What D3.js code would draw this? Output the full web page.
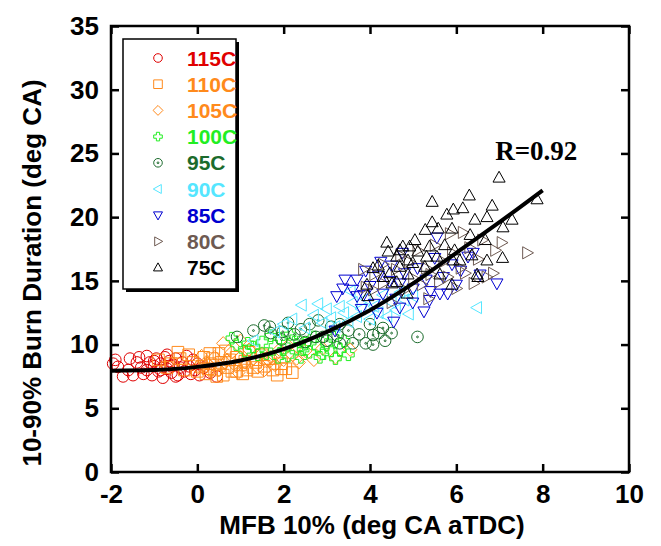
<!DOCTYPE html>
<html>
<head>
<meta charset="utf-8">
<script src="https://cdn.jsdelivr.net/npm/d3@7"></script>
<style>
  body { margin: 0; background: #fff; }
  svg { display: block; }
</style>
</head>
<body>
<script>
// series names (legend order)
var seriesNames = ["115C", "110C", "105C", "100C", "95C", "90C", "85C", "80C", "75C"];

// [MFB 10%, 10-90% burn duration]
var s115 = [[-1.95,8.5],[-1.9,8.8],[-1.84,8.25],[-1.72,7.5],[-1.6,8.0],[-1.56,8.9],[-1.49,7.6],[-1.4,8.6],[-1.3,8.2],[-1.25,7.7],[-1.17,9.1],[-1.17,8.0],[-1.1,8.6],[-1.05,7.6],[-1.0,8.3],[-0.95,8.9],[-0.9,7.9],[-0.85,8.5],[-0.8,7.4],[-0.75,9.0],[-0.7,8.1],[-0.65,8.7],[-0.6,7.8],[-0.55,8.4],[-0.5,8.9],[-0.45,7.6],[-0.4,8.2],[-0.35,8.6],[-0.3,7.9],[-0.25,9.1],[-0.2,8.3],[-0.15,7.7],[-0.1,8.8],[-0.05,8.0],[0.0,8.5],[0.05,7.6],[0.15,8.2],[0.3,7.8],[0.45,7.5],[-0.85,8.0],[-1.35,9.0],[-0.5,7.5],[-0.7,9.2],[-1.0,8.7],[-0.6,8.3]];
var s110 = [[-0.9,8.8],[-0.6,8.5],[-0.4,8.9],[-0.3,8.0],[-0.2,9.2],[-0.1,8.6],[0.0,7.9],[0.1,8.3],[0.15,9.0],[0.2,7.7],[0.29,9.3],[0.3,8.5],[0.35,8.9],[0.4,8.0],[0.5,9.3],[0.55,8.6],[0.6,7.6],[0.7,8.2],[0.75,8.8],[0.8,7.9],[0.91,7.9],[0.9,9.0],[1.0,8.4],[1.05,7.7],[1.1,8.7],[1.2,9.4],[1.29,8.2],[1.35,8.6],[1.4,7.9],[1.5,9.2],[1.55,8.3],[1.65,8.9],[1.75,8.0],[1.85,7.6],[1.95,8.1],[1.95,8.5],[2.05,8.1],[2.2,7.8],[-0.7,8.2],[0.25,8.1],[0.65,9.5],[1.15,8.0],[-0.45,9.4],[0.45,7.5]];
var s105 = [[0.0,8.2],[0.2,8.6],[0.4,9.0],[0.5,8.0],[0.64,8.6],[0.6,10.1],[0.7,8.8],[0.8,9.4],[0.9,8.3],[1.0,9.0],[1.1,8.6],[1.2,9.6],[1.3,8.9],[1.4,8.2],[1.5,9.3],[1.6,8.7],[1.68,8.7],[1.7,9.0],[1.8,8.4],[1.9,9.6],[2.0,8.8],[2.2,9.2],[2.3,8.9],[2.35,8.6],[2.5,9.5],[2.7,8.8],[1.0,10.3],[3.54,9.6],[3.2,9.0],[2.9,9.7],[0.3,7.9],[0.1,9.1],[1.55,8.0],[2.1,9.9],[0.95,7.8]];
var s100 = [[0.8,10.5],[0.9,10.0],[1.1,9.5],[1.17,10.1],[1.3,9.8],[1.4,9.2],[1.5,10.2],[1.6,9.3],[1.7,10.7],[1.8,9.9],[1.87,9.0],[1.9,10.5],[2.0,9.6],[2.1,9.1],[2.15,10.8],[2.2,10.3],[2.3,9.7],[2.37,10.2],[2.4,9.0],[2.45,9.6],[2.5,10.1],[2.6,9.4],[2.7,10.6],[2.8,9.8],[2.84,9.0],[2.9,9.3],[3.0,10.0],[3.1,9.5],[3.15,10.6],[3.2,8.9],[3.3,9.6],[3.4,10.3],[3.5,9.2]];
var s95 = [[0.92,10.6],[1.3,11.1],[1.55,11.5],[1.68,11.4],[1.7,10.9],[1.98,11.0],[1.95,10.4],[2.1,11.7],[2.25,10.8],[2.4,11.2],[2.5,10.2],[2.6,11.6],[2.75,10.6],[2.8,11.9],[2.91,10.6],[3.0,10.3],[3.1,11.4],[3.25,10.7],[3.3,10.1],[3.3,11.6],[3.5,11.1],[3.6,10.1],[3.75,10.8],[3.9,10.1],[4.0,11.6],[4.07,10.75],[4.07,10.0],[4.2,10.9],[4.3,11.3],[4.35,10.3],[4.5,10.9],[5.1,10.6]];
var s90 = [[1.3,10.3],[1.8,11.0],[2.0,11.6],[2.2,12.0],[2.42,13.1],[2.5,11.3],[2.7,12.3],[2.8,13.2],[2.9,11.7],[3.0,12.8],[3.1,12.1],[3.2,11.4],[3.3,13.0],[3.4,12.5],[3.5,11.8],[3.55,14.2],[3.6,13.3],[3.7,12.2],[3.8,12.8],[3.9,13.6],[4.0,12.0],[4.1,13.0],[4.2,12.5],[4.3,13.9],[4.4,12.2],[4.5,13.3],[4.6,12.7],[4.7,14.1],[4.8,13.5],[4.9,12.4],[5.0,13.8],[6.48,12.9]];
var s85 = [[3.19,11.1],[3.23,13.8],[3.37,14.4],[3.42,15.1],[3.6,14.3],[3.7,15.1],[3.7,13.8],[3.8,12.8],[3.85,13.9],[3.9,15.8],[4.0,14.6],[4.1,13.2],[4.16,12.5],[4.2,15.4],[4.25,16.5],[4.3,14.0],[4.45,15.0],[4.5,16.2],[4.55,11.8],[4.6,13.6],[4.69,12.9],[4.7,14.8],[4.75,17.2],[4.8,15.6],[4.99,13.3],[5.0,14.4],[5.1,16.0],[5.25,12.6],[5.3,15.1],[5.38,13.5],[5.4,14.2],[5.5,16.8],[5.55,18.4],[5.62,14.0],[5.7,15.3],[5.8,14.0],[5.9,16.3],[6.0,14.7],[6.1,15.8],[6.27,16.9],[6.39,17.2],[6.55,15.5],[6.94,14.8]];
var s80 = [[3.84,15.9],[3.9,14.5],[4.07,14.3],[4.1,15.5],[4.3,14.8],[4.3,16.3],[4.5,13.3],[4.6,15.9],[4.7,17.0],[4.8,14.3],[4.9,16.5],[5.0,15.2],[5.1,17.4],[5.2,14.7],[5.3,16.0],[5.35,13.6],[5.4,15.5],[5.5,17.8],[5.6,14.9],[5.7,16.5],[5.8,15.3],[5.85,18.7],[5.9,17.2],[6.0,14.4],[6.1,16.0],[6.15,18.8],[6.2,15.6],[6.3,17.6],[6.4,14.8],[6.5,16.7],[6.6,18.2],[6.7,15.3],[6.85,15.6],[6.9,17.4],[7.05,18.0],[7.64,17.2]];
var s75 = [[3.93,14.7],[3.95,13.8],[4.07,16.0],[4.19,16.2],[4.3,15.3],[4.39,18.0],[4.42,17.3],[4.46,15.6],[4.51,14.8],[4.62,16.9],[4.62,14.9],[4.69,17.4],[4.69,16.1],[4.76,17.7],[4.86,14.0],[4.88,16.6],[4.88,15.5],[4.92,17.7],[4.99,16.4],[5.04,18.2],[5.11,17.3],[5.27,16.1],[5.28,19.0],[5.31,16.9],[5.38,17.7],[5.44,21.2],[5.44,19.6],[5.55,16.9],[5.58,19.1],[5.62,15.5],[5.73,17.8],[5.78,20.2],[5.9,19.1],[5.9,14.7],[5.92,16.6],[5.93,20.6],[5.96,17.4],[6.08,16.6],[6.15,20.7],[6.3,21.7],[6.32,18.6],[6.36,17.0],[6.43,19.8],[6.48,15.5],[6.5,15.3],[6.67,18.2],[6.71,20.0],[6.71,16.6],[6.83,20.9],[6.99,23.1],[7.07,16.8],[7.08,19.2],[7.29,19.8],[7.87,21.4]];

var seriesData = [s115, s110, s105, s100, s95, s90, s85, s80, s75];

// fitted curve
var fitX = [-2, -1, 0, 1, 2, 3, 4, 5, 6, 7, 8];
var fitY = [7.95, 8.0, 8.25, 8.75, 9.65, 11.0, 12.7, 14.8, 17.2, 19.6, 22.1];
var fitLabel = "R=0.92";

var xTicks = [-2, 0, 2, 4, 6, 8, 10];
var yTicks = [0, 5, 10, 15, 20, 25, 30, 35];

var colors = ["#e00000", "#ff8a1c", "#ff8a1c", "#22ee22", "#1b6b2c", "#55e6ff", "#0000d0", "#6e5a52", "#000000"];
var shapes = ["circle", "square", "diamond", "plus", "circledot", "triLeft", "triDown", "triRight", "triUp"];

var width = 661, height = 546;
var margin = {left: 111, top: 26, right: 32, bottom: 74};
var pw = width - margin.left - margin.right,
    ph = height - margin.top - margin.bottom;

var svg = d3.select("body").append("svg")
    .attr("width", width)
    .attr("height", height);

var x = d3.scaleLinear().domain([-2, 10]).range([0, pw]);
var y = d3.scaleLinear().domain([0, 35]).range([ph, 0]);

var g = svg.append("g").attr("transform", "translate(" + margin.left + "," + margin.top + ")");

//marker path for a shape at size s (half width)
function markerPath(shape, s) {
    var p = d3.path();
    if (shape == "circle" || shape == "circledot") {
        p.arc(0, 0, s, 0, 2 * Math.PI);
    } else if (shape == "square") {
        p.rect(-s, -s, 2 * s, 2 * s);
    } else if (shape == "diamond") {
        var d = s * 1.15;
        p.moveTo(0, -d); p.lineTo(d, 0); p.lineTo(0, d); p.lineTo(-d, 0); p.closePath();
    } else if (shape == "plus") {
        var a = s * 0.38;
        p.moveTo(-a, -s); p.lineTo(a, -s); p.lineTo(a, -a); p.lineTo(s, -a); p.lineTo(s, a);
        p.lineTo(a, a); p.lineTo(a, s); p.lineTo(-a, s); p.lineTo(-a, a); p.lineTo(-s, a);
        p.lineTo(-s, -a); p.lineTo(-a, -a); p.closePath();
    } else {
        var t = s * 1.1, h = s * 0.95;
        var pts;
        if (shape == "triUp") pts = [[0, -t], [h * 1.1, t * 0.7], [-h * 1.1, t * 0.7]];
        if (shape == "triDown") pts = [[0, t], [h * 1.1, -t * 0.7], [-h * 1.1, -t * 0.7]];
        if (shape == "triLeft") pts = [[-t, 0], [t * 0.7, -h * 1.1], [t * 0.7, h * 1.1]];
        if (shape == "triRight") pts = [[t, 0], [-t * 0.7, -h * 1.1], [-t * 0.7, h * 1.1]];
        p.moveTo(pts[0][0], pts[0][1]); p.lineTo(pts[1][0], pts[1][1]); p.lineTo(pts[2][0], pts[2][1]); p.closePath();
    }
    if (shape == "circledot") {
        p.moveTo(0.9, 0);
        p.arc(0, 0, 0.9, 0, 2 * Math.PI);
    }
    return p.toString();
}

//scatter points
seriesData.forEach(function(data, i) {
    g.append("g")
        .attr("class", "series s" + seriesNames[i])
        .selectAll("path")
        .data(data)
        .enter()
        .append("path")
        .attr("transform", function(d) { return "translate(" + x(d[0]) + "," + y(d[1]) + ")"; })
        .attr("d", markerPath(shapes[i], 5.8))
        .attr("fill", "none")
        .attr("stroke", colors[i])
        .attr("stroke-width", 1);
});

//fit curve
var line = d3.line()
    .x(function(d, i) { return x(fitX[i]); })
    .y(function(d) { return y(d); })
    .curve(d3.curveMonotoneX);

g.append("path")
    .datum(fitY)
    .attr("d", line)
    .attr("fill", "none")
    .attr("stroke", "#000")
    .attr("stroke-width", 4);

g.append("text")
    .attr("x", x(6.9))
    .attr("y", y(24.5))
    .attr("font-family", "Liberation Serif, Times New Roman, serif")
    .attr("font-weight", "bold")
    .attr("font-size", 27)
    .text(fitLabel);

//frame and ticks
var tickLen = 8;
var fmt = function(d) { return String(d); };
var axisBottom = d3.axisBottom(x).tickValues(xTicks).tickSizeInner(-tickLen).tickSizeOuter(0).tickPadding(13).tickFormat(fmt);
var axisTop = d3.axisTop(x).tickValues(xTicks).tickSizeInner(-tickLen).tickSizeOuter(0).tickFormat("");
var axisLeft = d3.axisLeft(y).tickValues(yTicks).tickSizeInner(-tickLen).tickSizeOuter(0).tickPadding(12).tickFormat(fmt);
var axisRight = d3.axisRight(y).tickValues(yTicks).tickSizeInner(-tickLen).tickSizeOuter(0).tickFormat("");

g.append("g").attr("transform", "translate(0," + ph + ")").call(axisBottom);
g.append("g").call(axisTop);
g.append("g").call(axisLeft);
g.append("g").attr("transform", "translate(" + pw + ",0)").call(axisRight);

g.selectAll(".domain").remove();
g.selectAll(".tick line").attr("stroke", "#000").attr("stroke-width", 2.5);
g.selectAll(".tick text")
    .attr("fill", "#000")
    .attr("font-family", "Liberation Sans, Arial, sans-serif")
    .attr("font-weight", "bold")
    .attr("font-size", 26);

g.append("rect")
    .attr("width", pw)
    .attr("height", ph)
    .attr("fill", "none")
    .attr("stroke", "#000")
    .attr("stroke-width", 2.5);

//axis titles
svg.append("text")
    .attr("x", margin.left + pw / 2 + 2)
    .attr("y", 534)
    .attr("text-anchor", "middle")
    .attr("font-family", "Liberation Sans, Arial, sans-serif")
    .attr("font-weight", "bold")
    .attr("font-size", 26)
    .text("MFB 10% (deg CA aTDC)");

svg.append("text")
    .attr("transform", "translate(41," + (margin.top + ph / 2 + 24) + ") rotate(-90)")
    .attr("text-anchor", "middle")
    .attr("font-family", "Liberation Sans, Arial, sans-serif")
    .attr("font-weight", "bold")
    .attr("font-size", 26)
    .text("10-90% Burn Duration (deg CA)");

//legend
var lx = 123, ly = 39, lw = 113, lh = 250;
svg.append("rect")
    .attr("x", lx + 3).attr("y", ly + 3)
    .attr("width", lw).attr("height", lh)
    .attr("fill", "#000");
svg.append("rect")
    .attr("x", lx).attr("y", ly)
    .attr("width", lw).attr("height", lh)
    .attr("fill", "#fff")
    .attr("stroke", "#000")
    .attr("stroke-width", 1.5);

var legend = svg.selectAll(".legend")
    .data(seriesNames)
    .enter()
    .append("g")
    .attr("class", "legend")
    .attr("transform", function(d, i) { return "translate(" + (lx + 35) + "," + (ly + 19 + i * 26.2) + ")"; });

legend.append("path")
    .attr("d", function(d, i) { return markerPath(shapes[i], 4.3); })
    .attr("fill", "none")
    .attr("stroke", function(d, i) { return colors[i]; })
    .attr("stroke-width", 1);

legend.append("text")
    .attr("x", 29)
    .attr("y", 7.5)
    .attr("fill", function(d, i) { return colors[i]; })
    .attr("font-family", "Liberation Sans, Arial, sans-serif")
    .attr("font-weight", "bold")
    .attr("font-size", 21)
    .text(function(d) { return d; });
</script>
</body>
</html>
